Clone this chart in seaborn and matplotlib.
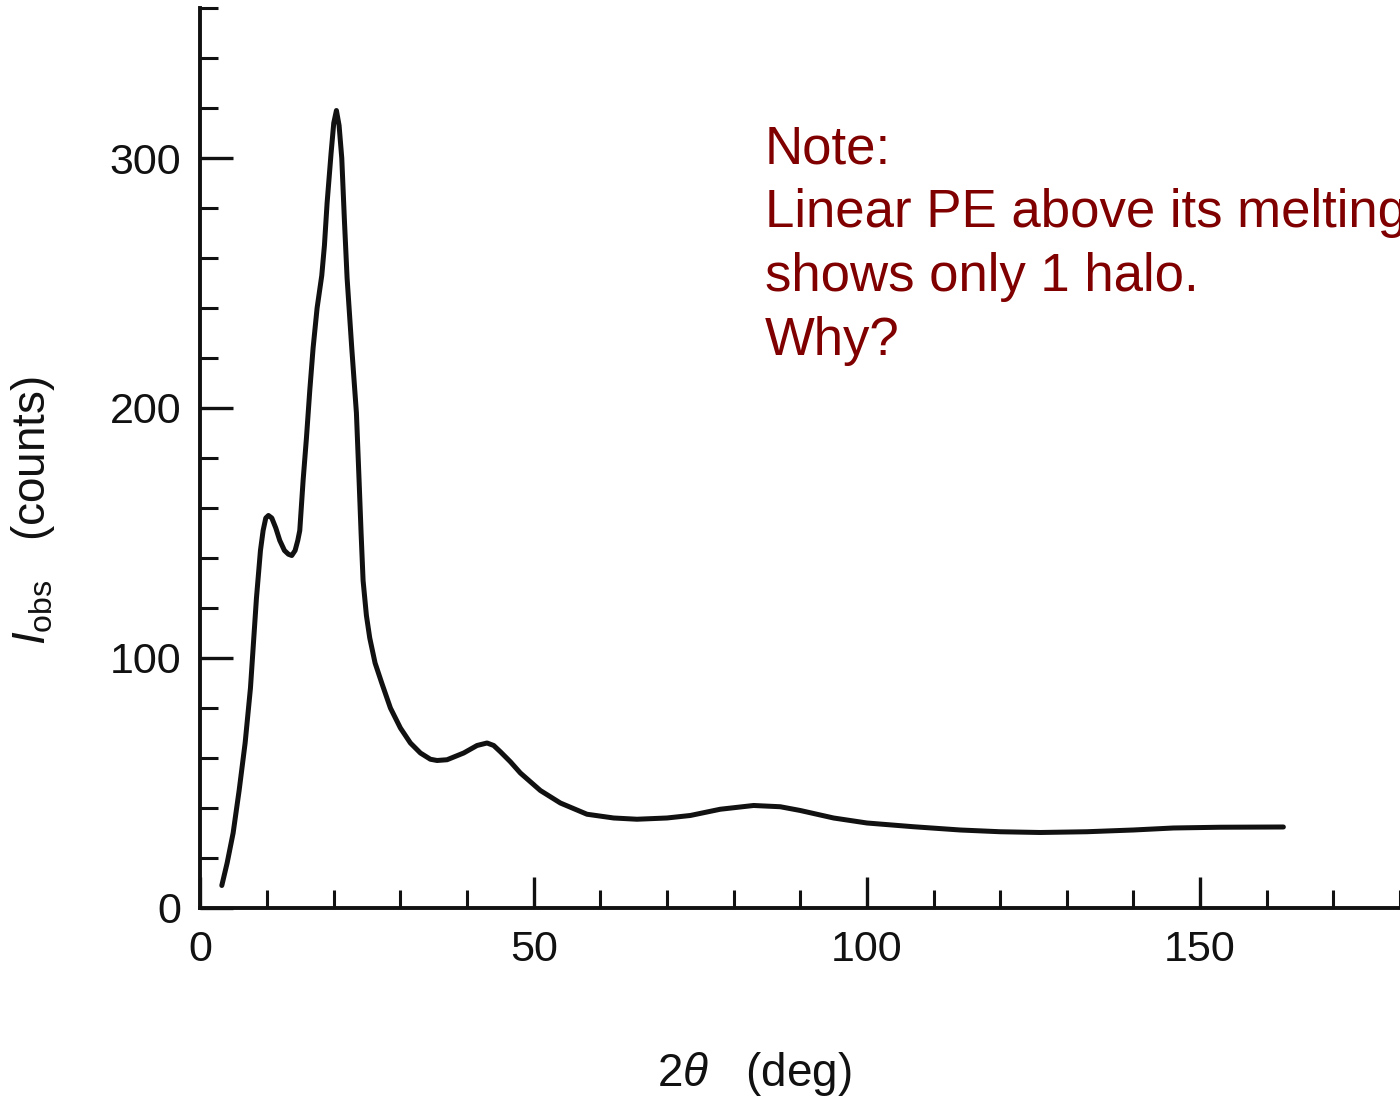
#!/usr/bin/env python
# -*- coding: utf-8 -*-

"""
Linear PE melt: observed X-ray intensity vs scattering angle (single amorphous halo)
"""

import pandas as pd
import matplotlib
matplotlib.use("Agg")
import matplotlib.pyplot as plt
from matplotlib.ticker import MultipleLocator
import seaborn as sns

# --- data ---
two_theta = [3.2, 4.0, 4.9, 5.8, 6.7, 7.5, 8.4, 9.0, 9.4, 9.8, 10.2, 10.7,
             11.3, 11.9, 12.6, 13.2, 13.7, 14.2, 14.6, 14.9, 15.4, 15.9, 16.4,
             16.9, 17.5, 18.2, 18.6, 19.0, 19.6, 20.0, 20.4, 20.8, 21.2, 21.6,
             22.0, 22.7, 23.4, 23.8, 24.1, 24.4, 24.9, 25.4, 26.2, 27.2, 28.5,
             30.0, 31.5, 33.0, 34.5, 35.5, 37.0, 39.5, 41.5, 43.0, 44.0, 45.0,
             46.5, 48.0, 51.0, 54.0, 58.0, 62.0, 65.5, 70.0, 73.5, 78.0, 83.0,
             87.0, 90.0, 95.0, 100.0, 107.0, 114.0, 120.0, 126.0, 133.0, 140.0,
             146.0, 153.0, 162.5]
counts = [9, 18, 30, 47, 66, 88, 124, 143, 151, 156, 157, 156,
          152, 147, 143, 141.5, 141, 143, 147, 151, 171, 188, 207,
          224, 240, 253, 265, 282, 302, 314, 319, 313, 300, 275,
          252, 224, 198, 171, 150, 131, 117, 108, 98, 90, 80,
          72, 66, 62, 59.5, 59, 59.3, 62, 65, 66, 65, 62.5,
          58.5, 54, 47, 42, 37.5, 36, 35.5, 36, 37, 39.5, 41,
          40.5, 39, 36, 34, 32.5, 31.2, 30.5, 30.2, 30.5, 31.2,
          32, 32.3, 32.4]

note_lines = ["Note:", "Linear PE above its melting", "shows only 1 halo.", "Why?"]

df = pd.DataFrame({"two_theta": two_theta, "counts": counts})

sns.set_style("ticks")
plt.rcParams['font.family'] = ['Liberation Sans', 'DejaVu Sans']
plt.rcParams['mathtext.fontset'] = 'custom'
plt.rcParams['mathtext.it'] = 'Liberation Sans:italic'
plt.rcParams['mathtext.rm'] = 'Liberation Sans'

fig = plt.figure(figsize=(14, 10.97), dpi=100)
ax = fig.add_axes([0.1432, 0.1723, 0.8568, 0.8204])

sns.lineplot(data=df, x="two_theta", y="counts", ax=ax, color="#111111",
             linewidth=3.6, sort=False)

ax.set_xlim(0, 180)
ax.set_ylim(0, 360)

sns.despine(ax=ax)
for side in ["left", "bottom"]:
    ax.spines[side].set_linewidth(2.8)
    ax.spines[side].set_color("#111111")

ax.xaxis.set_major_locator(MultipleLocator(50))
ax.xaxis.set_minor_locator(MultipleLocator(10))
ax.yaxis.set_major_locator(MultipleLocator(100))
ax.yaxis.set_minor_locator(MultipleLocator(20))

ax.tick_params(axis="both", which="major", direction="in", width=2.4,
               color="#111111", labelsize=31, labelcolor="#111111")
ax.tick_params(axis="both", which="minor", direction="in", width=2.2,
               length=13, color="#111111")
ax.tick_params(axis="y", which="major", length=24, pad=14)
ax.tick_params(axis="x", which="major", length=22, pad=16)

ax.set_xlabel(r"2$\theta$   (deg)", fontsize=33, color="#111111")
ax.xaxis.set_label_coords(0.462, -0.158)
ax.set_ylabel(r"$I_{\mathrm{obs}}$   (counts)", fontsize=33, color="#111111")
ax.yaxis.set_label_coords(-0.12, 0.442)

fig.text(765 / 1400, 1 - 124 / 1097, "\n".join(note_lines), ha="left", va="top",
         fontsize=38, color="#800000", linespacing=1.36,
         family=['Liberation Sans Narrow', 'Liberation Sans', 'DejaVu Sans'])

fig.savefig("out.png", dpi=100)
plt.close(fig)
